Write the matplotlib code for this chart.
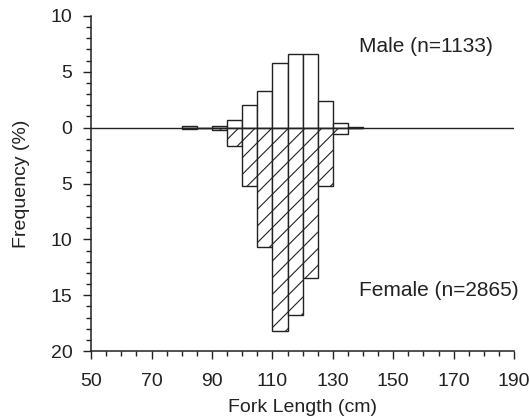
import numpy as np
import matplotlib.pyplot as plt
from matplotlib.ticker import MultipleLocator, FuncFormatter

plt.rcParams['font.family'] = ['Liberation Sans', 'DejaVu Sans']
plt.rcParams['hatch.linewidth'] = 0.8

# fork length bins (left edges, cm) and frequencies (%)
bins = [80, 85, 90, 95, 100, 105, 110, 115, 120, 125, 130, 135]
male = [0.12, 0, 0.12, 0.65, 2.05, 3.25, 5.8, 6.55, 6.55, 2.35, 0.45, 0.08]
female = [0.15, 0, 0.25, 1.65, 5.2, 10.7, 18.2, 16.8, 13.5, 5.2, 0.6, 0.03]
xticks = [50, 70, 90, 110, 130, 150, 170, 190]

fig = plt.figure(figsize=(5.3, 4.19), dpi=100)
ax = fig.add_axes([0.172, 0.162, 0.798, 0.800])

ax.bar(bins, male, width=5, align='edge', facecolor='white', edgecolor='#222222', linewidth=1)
ax.bar(bins, [-f for f in female], width=5, align='edge', facecolor='white',
       edgecolor='#222222', linewidth=1, hatch='//')
ax.axhline(0, color='#222222', linewidth=1)

ax.set_xlim(50, 190)
ax.set_ylim(-20, 10)
ax.set_xticks(xticks)
ax.xaxis.set_minor_locator(MultipleLocator(5))
ax.yaxis.set_major_locator(MultipleLocator(5))
ax.yaxis.set_minor_locator(MultipleLocator(1))
ax.yaxis.set_major_formatter(FuncFormatter(lambda v, p: f"{abs(v):.0f}"))
ax.tick_params(which='major', length=6, width=1, labelsize=14, colors='#222222')
ax.tick_params(which='minor', length=3.5, width=1, colors='#222222')
ax.tick_params(axis='x', which='major', pad=10)
ax.tick_params(axis='y', which='major', pad=7.5)
for s in ['top', 'right']:
    ax.spines[s].set_visible(False)
for s in ['left', 'bottom']:
    ax.spines[s].set_color('#222222')
    ax.spines[s].set_linewidth(1.1)

ax.set_xlabel('Fork Length (cm)', fontsize=14, color='#222222', labelpad=6)
ax.set_ylabel('Frequency (%)', fontsize=14, color='#222222', labelpad=15)

ax.text(138.5, 7.25, 'Male (n=1133)', fontsize=15, color='#222222', va='center')
ax.text(138.5, -14.6, 'Female (n=2865)', fontsize=15, color='#222222', va='center')

fig.savefig('out.png', dpi=100)
